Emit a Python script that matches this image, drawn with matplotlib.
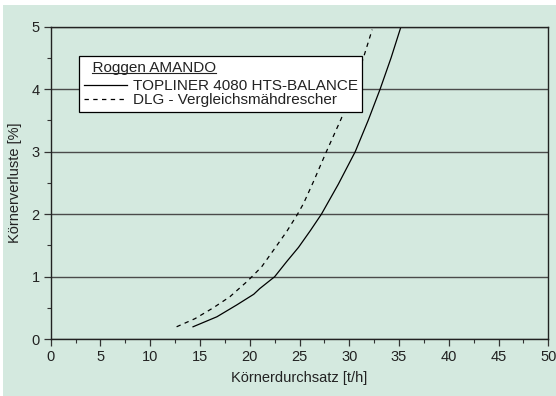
import numpy as np
import matplotlib
matplotlib.use('Agg')
import matplotlib.pyplot as plt
from matplotlib.patches import Rectangle
from matplotlib.lines import Line2D

# Daten
x_topliner = [14.3, 16.7, 18.7, 20.4, 21.0, 22.5, 23.7, 24.9, 26.1, 27.2, 28.9, 30.6, 31.9, 33.1, 34.2, 35.2]
y_topliner = [0.20, 0.36, 0.55, 0.72, 0.81, 1.00, 1.24, 1.47, 1.74, 2.00, 2.48, 3.00, 3.50, 4.00, 4.50, 5.00]

x_dlg = [12.65, 14.5, 16.3, 18.0, 19.7, 20.4, 21.2, 22.5, 23.7, 24.8, 25.4, 26.4, 27.7, 29.2, 30.3, 31.4, 32.3]
y_dlg = [0.20, 0.33, 0.50, 0.68, 0.92, 1.03, 1.16, 1.45, 1.72, 2.00, 2.17, 2.52, 3.00, 3.53, 4.00, 4.49, 4.95]

legend_title = 'Roggen AMANDO'
label_topliner = 'TOPLINER 4080 HTS-BALANCE'
label_dlg = 'DLG - Vergleichsmähdrescher'

green = '#d4e9df'
txt = '#222222'

plt.rcParams['font.family'] = ['Liberation Sans', 'DejaVu Sans']
plt.rcParams['font.size'] = 10.5

fig = plt.figure(figsize=(5.56, 3.96), dpi=100)
fig.patch.set_facecolor('white')
# gruener Hintergrund mit schmalem weissem Rand oben/links
fig.patches.append(Rectangle((3/556., 0), 1, 391/396., transform=fig.transFigure,
                             facecolor=green, edgecolor='none', zorder=-10))

ax = fig.add_axes([0.0912, 0.1432, 0.8950, 0.7898])
ax.set_facecolor(green)

ax.plot(x_topliner, y_topliner, color='black', lw=0.9, label=label_topliner)
ax.plot(x_dlg, y_dlg, color='black', lw=0.9, linestyle=(0, (3.5, 3.5)), label=label_dlg)

ax.set_xlim(0, 50)
ax.set_ylim(0, 5)
ax.set_xticks(np.arange(0, 51, 5))
ax.set_xticks(np.arange(2.5, 50, 5), minor=True)
ax.set_yticks(np.arange(0, 6, 1))
ax.set_yticks(np.arange(0.5, 5, 1), minor=True)
ax.tick_params(which='major', direction='out', length=5, width=0.9, color='#333333',
               labelsize=10.5, labelcolor=txt, pad=3)
ax.tick_params(which='minor', direction='out', length=3, width=0.8, color='#333333')
ax.grid(True, axis='y', which='major', color='#4a4a4a', lw=1.0)
ax.set_axisbelow(True)
for s in ax.spines.values():
    s.set_color('#222222')
    s.set_linewidth(1.0)

ax.set_xlabel('Körnerdurchsatz [t/h]', color=txt, fontsize=10.5, labelpad=5)
ax.set_ylabel('Körnerverluste [%]', color=txt, fontsize=10.5, labelpad=7)

fs = 11
leg = ax.legend(loc='upper left', bbox_to_anchor=(0.0575, 0.906), borderaxespad=0,
                title='  ' + legend_title, alignment='left', title_fontsize=fs,
                fontsize=fs, frameon=True, fancybox=False, framealpha=1,
                edgecolor='black', handlelength=2.8, handletextpad=0.4,
                labelspacing=0.0, borderpad=0.3)
leg.get_frame().set_linewidth(0.9)
leg.get_title().set_color(txt)
for t in leg.get_texts():
    t.set_color(txt)
# etwas Abstand zwischen Titel und Eintraegen
leg._legend_box.sep = 3.5

# Unterstreichung des Legendentitels
fig.canvas.draw()
r = fig.canvas.get_renderer()
tt = leg.get_title()
bb = tt.get_window_extent(r)
tmp = fig.text(0, 0, legend_title, fontsize=fs)
w = tmp.get_window_extent(r).width
tmp.remove()
x1 = bb.x1
x0 = x1 - w
fs_px = fs * fig.dpi / 72.
yl = bb.y0 + 0.21 * fs_px - 1.5
fig.lines.append(Line2D([x0 / fig.bbox.width, x1 / fig.bbox.width],
                        [yl / fig.bbox.height, yl / fig.bbox.height],
                        transform=fig.transFigure, color=txt, lw=0.8))

fig.savefig('out.png', dpi=100, facecolor=fig.get_facecolor())
